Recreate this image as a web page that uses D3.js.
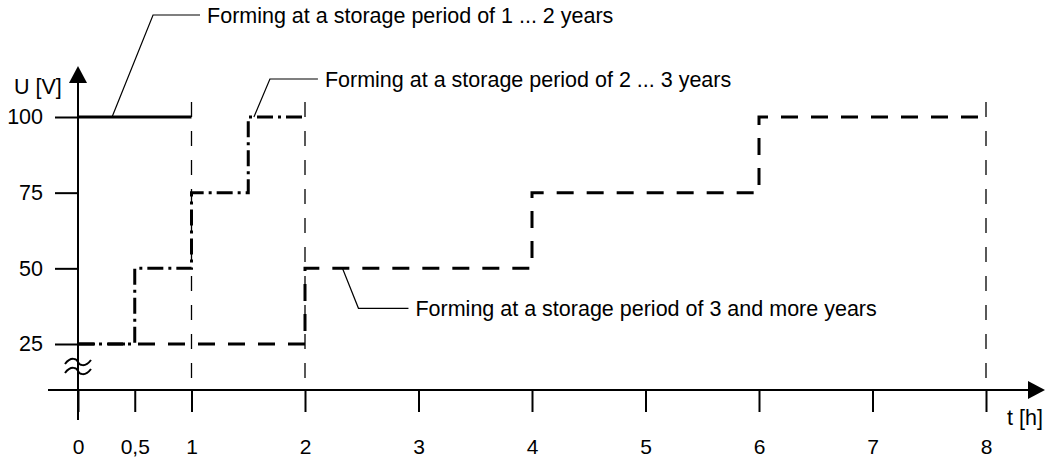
<!DOCTYPE html>
<html>
<head>
<meta charset="utf-8">
<script src="https://cdn.jsdelivr.net/npm/d3@7"></script>
<style>
  html, body { margin: 0; padding: 0; background: #ffffff; }
  svg { display: block; font-family: "Liberation Sans", Arial, sans-serif; }
</style>
</head>
<body>
<svg id="chart" width="1053" height="460"></svg>
<script>
// Forming voltage steps over time (t in hours, U in volts)
const formingShortTimes = [0, 1];
const formingShortVolts = [100, 100];

const formingMidTimes = [0, 0.5, 1, 1.5, 2];
const formingMidVolts = [25, 50, 75, 100, 100];

const formingLongTimes = [0, 2, 4, 6, 8];
const formingLongVolts = [25, 50, 75, 100, 100];

// Phase boundaries marked by thin vertical guides
const guideTimes = [1, 2, 8];

// Axis ticks
const xTickValues = [0, 0.5, 1, 2, 3, 4, 5, 6, 7, 8];
const xTickLabels = ["0", "0,5", "1", "2", "3", "4", "5", "6", "7", "8"];
const yTickValues = [25, 50, 75, 100];
const yTickLabels = ["25", "50", "75", "100"];

// Annotation texts and where their leader lines touch the curves
const noteTexts = [
  "Forming at a storage period of 1 ... 2 years",
  "Forming at a storage period of 2 ... 3 years",
  "Forming at a storage period of 3 and more years"
];
const noteAnchorTimes = [0.3, 1.55, 2.33];
const noteAnchorVolts = [100, 100, 50];

const svg = d3.select("#chart");
const FONT = 21.5;

const x = d3.scaleLinear().domain([0, 8]).range([78, 986]);
const y = d3.scaleLinear().domain([25, 100]).range([344, 117]);
const axisY = 390;            // broken axis: time axis sits below the 25 V level
const ink = "#000";

// ---- axes ----
const gx = svg.append("g").attr("transform", `translate(0,${axisY})`)
  .call(d3.axisBottom(x).tickValues(xTickValues)
    .tickFormat((d, i) => xTickLabels[i]).tickSize(22).tickPadding(27));
gx.select(".domain").remove();
gx.selectAll(".tick line").attr("stroke", ink).attr("stroke-width", 2);
gx.selectAll(".tick text").attr("font-size", 21).attr("font-family", "Liberation Sans, Arial, sans-serif").attr("fill", ink);

const gy = svg.append("g").attr("transform", `translate(${x(0)},0)`)
  .call(d3.axisLeft(y).tickValues(yTickValues)
    .tickFormat((d, i) => yTickLabels[i]).tickSize(23).tickPadding(12));
gy.select(".domain").remove();
gy.selectAll(".tick line").attr("stroke", ink).attr("stroke-width", 2);
gy.selectAll(".tick text").attr("font-size", FONT).attr("font-family", "Liberation Sans, Arial, sans-serif").attr("fill", ink);

// axis lines with arrow heads
svg.append("line").attr("x1", 48).attr("x2", 1030).attr("y1", axisY).attr("y2", axisY)
  .attr("stroke", ink).attr("stroke-width", 2);
svg.append("path").attr("d", `M1028,${axisY - 9} L1045,${axisY} L1028,${axisY + 9} Z`).attr("fill", ink);

svg.append("line").attr("x1", x(0)).attr("x2", x(0)).attr("y1", 420).attr("y2", 80)
  .attr("stroke", ink).attr("stroke-width", 2);
svg.append("path").attr("d", `M${x(0) - 9},83 L${x(0)},66 L${x(0) + 9},83 Z`).attr("fill", ink);

// axis break mark: two wavy strokes across the vertical axis
const wave = (cy) => {
  const x0 = x(0) - 13, w = 26;
  return `M${x0},${cy + 2} C${x0 + 6},${cy - 6} ${x0 + 12},${cy - 3} ${x0 + 13},${cy}` +
         ` S${x0 + 20},${cy + 6} ${x0 + w},${cy - 2}`;
};
[362, 371].forEach(cy => {
  svg.append("path").attr("d", wave(cy)).attr("fill", "none")
    .attr("stroke", ink).attr("stroke-width", 2);
});

// axis titles
svg.append("text").attr("x", 14).attr("y", 94).attr("font-size", FONT).attr("fill", ink).text("U [V]");
svg.append("text").attr("x", 1007).attr("y", 425).attr("font-size", FONT).attr("fill", ink).text("t [h]");

// ---- thin guides at phase ends ----
svg.append("g").selectAll("line").data(guideTimes).join("line")
  .attr("x1", d => x(d)).attr("x2", d => x(d))
  .attr("y1", 102).attr("y2", axisY)
  .attr("stroke", ink).attr("stroke-width", 1.3)
  .attr("stroke-dasharray", "15,14");

// ---- forming curves ----
const stepLine = d3.line().x(d => x(d[0])).y(d => y(d[1])).curve(d3.curveStepAfter);
const zipPts = (ts, vs) => ts.map((t, i) => [t, vs[i]]);

svg.append("path").datum(zipPts(formingLongTimes, formingLongVolts))
  .attr("d", stepLine).attr("fill", "none").attr("stroke", ink)
  .attr("stroke-width", 3).attr("stroke-dasharray", "17,13");

svg.append("path").datum(zipPts(formingMidTimes, formingMidVolts))
  .attr("d", stepLine).attr("fill", "none").attr("stroke", ink)
  .attr("stroke-width", 3).attr("stroke-dasharray", "16,5,3,5");

svg.append("path").datum(zipPts(formingShortTimes, formingShortVolts))
  .attr("d", stepLine).attr("fill", "none").attr("stroke", ink)
  .attr("stroke-width", 3);

// ---- annotations with leader lines ----
const noteOffsets = [
  { ex: 41, ey: -102, len: 47 },   // up-right, long rise
  { ex: 16, ey: -38, len: 48 },
  { ex: 16, ey: 40, len: 50 }      // down-right
];
noteTexts.forEach((txt, i) => {
  const ax = x(noteAnchorTimes[i]), ay = y(noteAnchorVolts[i]);
  const o = noteOffsets[i];
  const ex = ax + o.ex, ey = ay + o.ey;
  svg.append("polyline")
    .attr("points", `${ax},${ay} ${ex},${ey} ${ex + o.len},${ey}`)
    .attr("fill", "none").attr("stroke", ink).attr("stroke-width", 1.2);
  svg.append("text").attr("x", ex + o.len + 7).attr("y", ey + 8)
    .attr("font-size", FONT).attr("fill", ink).text(txt);
});
</script>
</body>
</html>
